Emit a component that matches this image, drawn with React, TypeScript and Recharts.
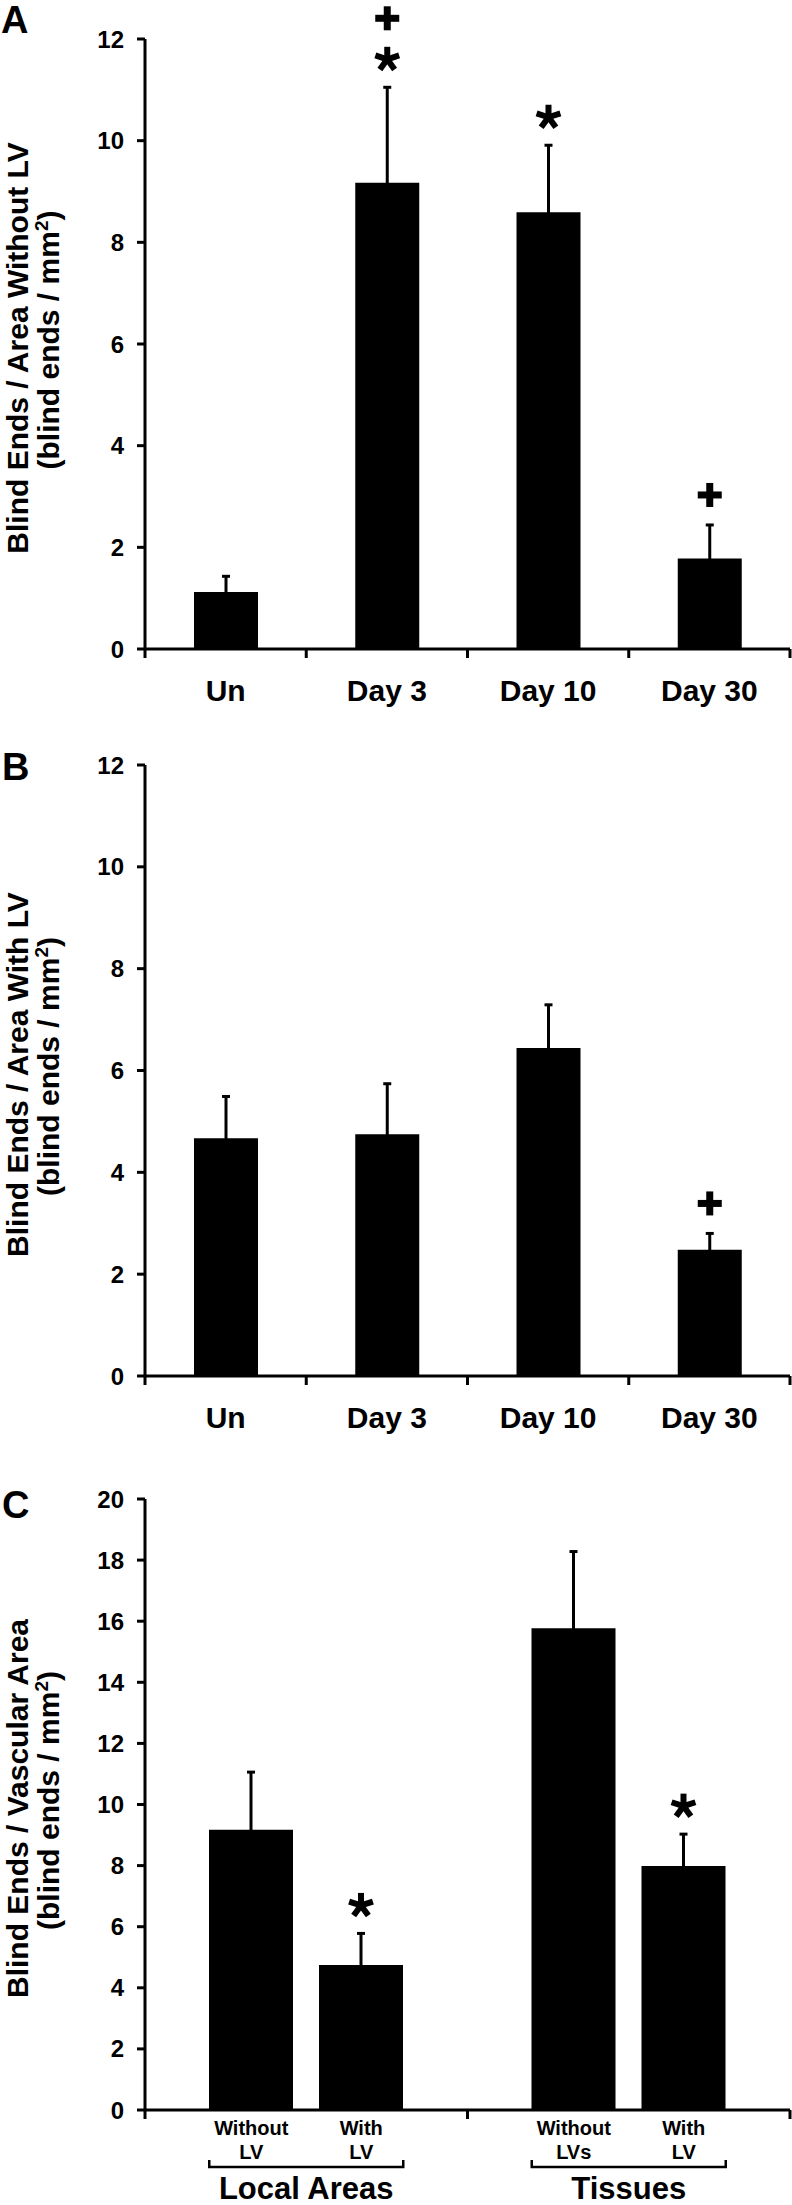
import React from "react";
import { BarChart, Bar, XAxis, YAxis, ErrorBar, LabelList } from "recharts";

const FONT = "'Liberation Sans', Arial, Helvetica, sans-serif";

// panel A: blind ends / area without LV
const dayLabels = ["Un", "Day 3", "Day 10", "Day 30"];
const withoutLvMean = [1.12, 9.17, 8.59, 1.78];
const withoutLvSem = [0.31, 1.88, 1.32, 0.66];
const withoutLvMarks = ["", "*+", "*", "+"];

// panel B: blind ends / area with LV
const withLvMean = [4.67, 4.75, 6.44, 2.48];
const withLvSem = [0.82, 0.99, 0.85, 0.32];
const withLvMarks = ["", "", "", "+"];

const dayTicks = [0, 2, 4, 6, 8, 10, 12];

// panel C: blind ends / vascular area
const areaGroups = ["Local Areas", "Tissues"];
const withoutNames = ["Without LV", "Without LVs"];
const withNames = ["With LV", "With LV"];
const vascWithoutMean = [9.17, 15.77];
const vascWithoutSem = [1.89, 2.51];
const vascWithMean = [4.75, 7.99];
const vascWithSem = [1.03, 1.04];
const vascWithMarks = ["*", "*"];
const vascTicks = [0, 2, 4, 6, 8, 10, 12, 14, 16, 18, 20];

const W = 792;
const AXIS_LEFT = 145;
const RIGHT = 2;
const BAR_C = 84;
const GAP_C = 26;

const axisStroke = { stroke: "#000", strokeWidth: 3 };
const yTickStyle = { fill: "#000", fontSize: 24, fontWeight: "bold", fontFamily: FONT };

function Asterisk({ cx, cy }: { cx: number; cy: number }) {
  return (
    <g>
      {[-90, -18, 54, 126, 198].map((a) => {
        const r = (a * Math.PI) / 180;
        return (
          <line
            key={a}
            x1={cx}
            y1={cy}
            x2={cx + 12.5 * Math.cos(r)}
            y2={cy + 12.5 * Math.sin(r)}
            stroke="#000"
            strokeWidth={6}
          />
        );
      })}
    </g>
  );
}

function Plus({ cx, cy }: { cx: number; cy: number }) {
  return (
    <g fill="#000">
      <rect x={cx - 12} y={cy - 3.5} width={24} height={7} />
      <rect x={cx - 3.5} y={cy - 12} width={7} height={24} />
    </g>
  );
}

// significance marks sit above the error bar cap
const markLabel = (means: number[], sems: number[]) => (props: any) => {
  const mark = props.value;
  const i = props.index;
  if (!mark || i == null) return null;
  const vb = props.viewBox ?? props;
  const unit = vb.height / means[i];
  const errTop = vb.y - sems[i] * unit;
  const cx = vb.x + vb.width / 2;
  return (
    <g key={`mark-${i}`}>
      {mark.split("").map((m: string, k: number) => {
        const cy = k === 0 ? errTop - (m === "*" ? 28 : 30) : errTop - 69;
        return m === "*" ? <Asterisk key={k} cx={cx} cy={cy} /> : <Plus key={k} cx={cx} cy={cy} />;
      })}
    </g>
  );
};

function AxisTitle({ cy, line1 }: { cy: number; line1: string }) {
  return (
    <g fontFamily={FONT} fontWeight="bold" fontSize={30} fill="#000">
      <text transform={`translate(27.5, ${cy + 4}) rotate(-90)`} textAnchor="middle">
        {line1}
      </text>
      <text transform={`translate(59, ${cy - 4}) rotate(-90)`} textAnchor="middle">
        (blind ends / mm
        <tspan dy={-11} fontSize={19}>2</tspan>
        <tspan dy={11}>)</tspan>
      </text>
    </g>
  );
}

const dayBand = (W - AXIS_LEFT - RIGHT) / dayLabels.length;

function DayTick(props: any) {
  const { x, y, payload } = props;
  const half = payload?.offset || dayBand / 2;
  const last = payload.value === dayLabels[dayLabels.length - 1];
  return (
    <g>
      <line x1={x - half} y1={y} x2={x - half} y2={y + 9} stroke="#000" strokeWidth={3} />
      {last && <line x1={x + half} y1={y} x2={x + half} y2={y + 9} stroke="#000" strokeWidth={3} />}
      <text x={x} y={y + 52} textAnchor="middle" fontFamily={FONT} fontWeight="bold" fontSize={30} fill="#000">
        {payload.value}
      </text>
    </g>
  );
}

const groupBand = (W - AXIS_LEFT - RIGHT) / areaGroups.length;

function GroupTick(props: any) {
  const { x, y, payload } = props;
  const half = payload?.offset || groupBand / 2;
  const gi = areaGroups.indexOf(payload.value);
  const last = gi === areaGroups.length - 1;
  const step = (BAR_C + GAP_C) / 2;
  const span = GAP_C / 2 + BAR_C;
  const subs = [withoutNames[gi], withNames[gi]];
  return (
    <g fontFamily={FONT} fontWeight="bold" fill="#000">
      <line x1={x - half} y1={y} x2={x - half} y2={y + 9} stroke="#000" strokeWidth={3} />
      {last && <line x1={x + half} y1={y} x2={x + half} y2={y + 9} stroke="#000" strokeWidth={3} />}
      {subs.map((s, k) => {
        const [a, b] = s.split(" ");
        const sx = x + (k === 0 ? -step : step);
        return (
          <text key={k} textAnchor="middle" fontSize={20}>
            <tspan x={sx} y={y + 25}>{a}</tspan>
            <tspan x={sx} y={y + 49}>{b}</tspan>
          </text>
        );
      })}
      <path
        d={`M${x - span},${y + 50} V${y + 57} H${x + span} V${y + 50}`}
        fill="none"
        stroke="#000"
        strokeWidth={2.5}
      />
      <text x={x} y={y + 89} textAnchor="middle" fontSize={31}>
        {payload.value}
      </text>
    </g>
  );
}

const X_AXIS_H = 60;

function DayPanel({
  means,
  sems,
  marks,
  title,
  height,
  marginTop,
  marginBottom,
}: {
  means: number[];
  sems: number[];
  marks: string[];
  title: string;
  height: number;
  marginTop: number;
  marginBottom: number;
}) {
  const rows = dayLabels.map((name, i) => ({
    name,
    mean: means[i],
    sem: sems[i],
    mark: marks[i],
  }));
  const plotH = height - marginTop - marginBottom - X_AXIS_H;
  return (
    <BarChart
      width={W}
      height={height}
      data={rows}
      margin={{ top: marginTop, right: RIGHT, bottom: marginBottom, left: 0 }}
    >
      <XAxis
        dataKey="name"
        height={X_AXIS_H}
        tickLine={false}
        tickSize={0}
        tickMargin={0}
        interval={0}
        axisLine={axisStroke}
        tick={(p: any) => <DayTick {...p} />}
      />
      <YAxis
        width={AXIS_LEFT}
        domain={[0, 12]}
        ticks={dayTicks}
        interval={0}
        tickSize={8}
        tickMargin={13}
        axisLine={axisStroke}
        tickLine={axisStroke}
        tick={yTickStyle}
        label={{ content: () => <AxisTitle cy={marginTop + plotH / 2} line1={title} /> }}
      />
      <Bar dataKey="mean" fill="#000" barSize={64} isAnimationActive={false}>
        <ErrorBar dataKey="sem" width={4} strokeWidth={3} stroke="#000" direction="y" isAnimationActive={false} />
        <LabelList dataKey="mark" content={markLabel(means, sems)} />
      </Bar>
    </BarChart>
  );
}

function VascPanel() {
  const rows = areaGroups.map((name, i) => ({
    name,
    without: vascWithoutMean[i],
    withLv: vascWithMean[i],
    withoutSem: vascWithoutSem[i],
    withSem: vascWithSem[i],
    mark: vascWithMarks[i],
  }));
  const height = 765;
  const marginTop = 59;
  const xh = 95;
  const plotH = height - marginTop - xh;
  return (
    <BarChart
      width={W}
      height={height}
      data={rows}
      barGap={GAP_C}
      margin={{ top: marginTop, right: RIGHT, bottom: 0, left: 0 }}
    >
      <XAxis
        dataKey="name"
        height={xh}
        tickLine={false}
        tickSize={0}
        tickMargin={0}
        interval={0}
        axisLine={axisStroke}
        tick={(p: any) => <GroupTick {...p} />}
      />
      <YAxis
        width={AXIS_LEFT}
        domain={[0, 20]}
        ticks={vascTicks}
        interval={0}
        tickSize={8}
        tickMargin={13}
        axisLine={axisStroke}
        tickLine={axisStroke}
        tick={yTickStyle}
        label={{ content: () => <AxisTitle cy={marginTop + plotH / 2} line1="Blind Ends / Vascular Area" /> }}
      />
      <Bar dataKey="without" fill="#000" barSize={BAR_C} isAnimationActive={false}>
        <ErrorBar dataKey="withoutSem" width={4} strokeWidth={3} stroke="#000" direction="y" isAnimationActive={false} />
      </Bar>
      <Bar dataKey="withLv" fill="#000" barSize={BAR_C} isAnimationActive={false}>
        <ErrorBar dataKey="withSem" width={4} strokeWidth={3} stroke="#000" direction="y" isAnimationActive={false} />
        <LabelList dataKey="mark" content={markLabel(vascWithMean, vascWithSem)} />
      </Bar>
    </BarChart>
  );
}

export default function App() {
  return (
    <div style={{ position: "absolute", left: 0, top: 0, width: W, height: 2205, background: "#fff" }}>
      <div style={{ position: "absolute", left: 0, top: 0 }}>
        <DayPanel
          means={withoutLvMean}
          sems={withoutLvSem}
          marks={withoutLvMarks}
          title="Blind Ends / Area Without LV"
          height={720}
          marginTop={39}
          marginBottom={11}
        />
      </div>
      <div style={{ position: "absolute", left: 0, top: 720 }}>
        <DayPanel
          means={withLvMean}
          sems={withLvSem}
          marks={withLvMarks}
          title="Blind Ends / Area With LV"
          height={720}
          marginTop={45}
          marginBottom={4}
        />
      </div>
      <div style={{ position: "absolute", left: 0, top: 1440 }}>
        <VascPanel />
      </div>
      <svg
        width={W}
        height={2205}
        style={{ position: "absolute", left: 0, top: 0, pointerEvents: "none" }}
      >
        <g fontFamily={FONT} fontWeight="bold" fontSize={38} fill="#000">
          <text x={1} y={33}>A</text>
          <text x={2} y={780}>B</text>
          <text x={2} y={1518}>C</text>
        </g>
      </svg>
    </div>
  );
}
